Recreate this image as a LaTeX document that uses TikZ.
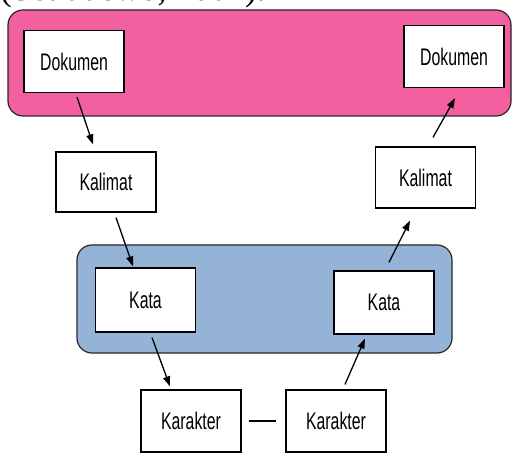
\documentclass[tikz,border=0pt]{standalone}
\usepackage{fontspec}
\usetikzlibrary{arrows.meta}
\newfontfamily\boxfont[FakeStretch=0.66]{Liberation Sans}
\newfontfamily\reffont{Liberation Serif}
\definecolor{pinkfill}{RGB}{242,96,160}
\definecolor{bluefill}{RGB}{149,179,215}
\tikzset{
  x=1pt,y=1pt,
  group/.style={draw=black!85,line width=1.2pt,rounded corners=15pt},
  box/.style={draw=black,line width=1.2pt,fill=white,minimum width=100pt,minimum height=62pt,inner sep=0pt,font=\boxfont\fontsize{24}{28}\selectfont},
  arr/.style={line width=1.3pt,-{Triangle[length=10pt,width=7pt]}},
  link/.style={line width=1.3pt}
}
\begin{document}
\begin{tikzpicture}
\useasboundingbox (0,0) rectangle (513,452);
\clip (0,0) rectangle (513,452);
\fill[white] (0,0) rectangle (513,452);
\node[anchor=base west,inner sep=0pt,font=\reffont\fontsize{35}{40}\selectfont] (ref) at (0,451) {(Setiadewo, 2007).};
\draw[group,fill=pinkfill] (8,336) rectangle (511,442);
\draw[group,fill=bluefill] (77,99) rectangle (452,207);
\node[box] (dl) at (74,390.5) {Dokumen};
\node[box] (dr) at (454,395.5) {Dokumen};
\node[box,minimum height=60pt] (kl) at (106,270) {Kalimat};
\node[box,minimum height=61pt] (kr) at (425.5,274.5) {Kalimat};
\node[box,minimum height=64pt] (tl) at (145.5,152) {Kata};
\node[box,minimum height=63pt] (tr) at (384,149.5) {Kata};
\node[box] (cl) at (191,31) {Karakter};
\node[box] (cr) at (336,31) {Karakter};
\draw[arr] ([shift={(3,-4)}]dl.south) -- ([shift={(-13,7)}]kl.north);
\draw[arr] ([shift={(10,-5)}]kl.south) -- ([shift={(-12.5,1)}]tl.north);
\draw[arr] ([shift={(6.5,-5)}]tl.south) -- ([shift={(-21,3)}]cl.north);
\draw[arr] ([shift={(9,5)}]cr.north) -- ([shift={(-19,-4)}]tr.south);
\draw[arr] ([shift={(5,8)}]tr.north) -- ([shift={(-15.5,-12)}]kr.south);
\draw[arr] ([shift={(7.5,9)}]kr.north) -- ([shift={(1,-10)}]dr.south);
\draw[link,shorten <=7pt,shorten >=9pt] (cl.east) -- (cr.west);
\end{tikzpicture}
\end{document}
